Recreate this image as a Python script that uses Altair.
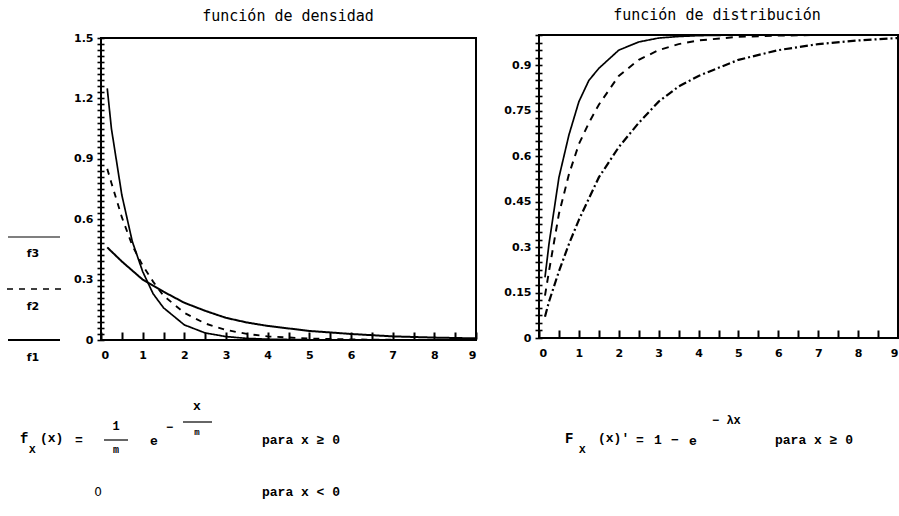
import altair as alt
import pandas as pd

W, H = 899, 516

series = ["f1", "f2", "f3"]
x_marks = [i * 0.5 for i in range(19)]          # ticks every half unit, labels on integers
dens_ymajor, dens_yminor = 0.3, 0.03
dist_ymajor, dist_yminor = 0.15, 0.025

# función de densidad: three exponential densities
dens_x = [0.15, 0.25, 0.5, 0.75, 1.0, 1.25, 1.5, 2.0, 2.5, 3.0, 3.5, 4.0, 5.0, 6.0, 7.0, 8.0, 9.0]
dens_f1 = [1.25, 1.05, 0.72, 0.49, 0.34, 0.23, 0.16, 0.075, 0.035, 0.017, 0.008, 0.004, 0.001, 0.0, 0.0, 0.0, 0.0]
dens_f2 = [0.85, 0.78, 0.61, 0.47, 0.37, 0.29, 0.22, 0.135, 0.082, 0.05, 0.03, 0.018, 0.007, 0.003, 0.001, 0.0, 0.0]
dens_f3 = [0.46, 0.44, 0.39, 0.345, 0.30, 0.27, 0.24, 0.185, 0.145, 0.11, 0.087, 0.07, 0.045, 0.03, 0.018, 0.012, 0.008]

# función de distribución: the matching cumulative curves
dist_x = [0.15, 0.25, 0.5, 0.75, 1.0, 1.25, 1.5, 2.0, 2.5, 3.0, 3.5, 4.0, 5.0, 6.0, 7.0, 8.0, 9.0]
dist_f1 = [0.2, 0.31, 0.53, 0.67, 0.78, 0.85, 0.89, 0.95, 0.977, 0.99, 0.995, 0.998, 1.0, 1.0, 1.0, 1.0, 1.0]
dist_f2 = [0.14, 0.22, 0.41, 0.54, 0.64, 0.71, 0.77, 0.865, 0.918, 0.95, 0.97, 0.982, 0.994, 0.998, 1.0, 1.0, 1.0]
dist_f3 = [0.07, 0.12, 0.22, 0.31, 0.39, 0.46, 0.53, 0.63, 0.71, 0.78, 0.83, 0.865, 0.918, 0.95, 0.97, 0.982, 0.99]


def long_form(xv, ys):
    rows = []
    for name, vals in zip(series, ys):
        for x, y in zip(xv, vals):
            rows.append({"x": x, "y": y, "s": name})
    return pd.DataFrame(rows)


dens_df = long_form(dens_x, [dens_f1, dens_f2, dens_f3])
dist_df = long_form(dist_x, [dist_f1, dist_f2, dist_f3])

LABEL = dict(labelFont="DejaVu Sans", labelFontSize=11, labelFontWeight="bold",
             labelColor="black")


def panel(df, ymax, xr, yr, ymajor, yminor, dashes, widths):
    """Framed plot whose scales map straight onto the given pixel ranges."""
    xsc = alt.Scale(domain=[0, 9], range=xr, nice=False, zero=False)
    ysc = alt.Scale(domain=[0, ymax], range=yr, nice=False, zero=False)
    n = int(round(ymax / yminor))
    yvals = [round(i * yminor, 4) for i in range(n + 1)]
    major_k = int(round(ymajor * 1000))

    box = pd.DataFrame({"x0": [0], "x1": [9], "y0": [0], "y1": [ymax]})
    frame = alt.Chart(box).mark_rect(fill="transparent", stroke="black", strokeWidth=2).encode(
        # x axis drawn with upward (inward) ticks; labels pushed below the frame
        x=alt.X("x0:Q", scale=xsc, axis=alt.Axis(
            orient="top", offset=-(yr[0] - 1), values=x_marks, ticks=True,
            tickSize=7, tickWidth=2, tickColor="#000000", tickOpacity=1,
            domain=False, labelPadding=-28, labelBaseline="bottom", grid=False,
            title=None, zindex=2,
            labelExpr="round(datum.value * 10) % 10 == 0 ? format(datum.value, 'd') : ''",
            **LABEL)),
        x2="x1:Q",
        # y axis ticks straddle the frame line
        y=alt.Y("y0:Q", scale=ysc, axis=alt.Axis(
            orient="left", offset=-(xr[0] + 3), values=yvals, ticks=True,
            tickSize=7, tickWidth=1.6, tickColor="#000000", tickOpacity=1,
            domain=False, labelPadding=4, grid=False, title=None, zindex=2,
            labelExpr=f"round(datum.value * 1000) % {major_k} == 0 ? format(datum.value, '~g') : ''",
            **LABEL)),
        y2="y1:Q",
    )

    curves = alt.Chart(df).mark_line(color="black").encode(
        x=alt.X("x:Q", scale=xsc, axis=None),
        y=alt.Y("y:Q", scale=ysc, axis=None),
        strokeDash=alt.StrokeDash("s:N", scale=alt.Scale(domain=series, range=dashes), legend=None),
        strokeWidth=alt.StrokeWidth("s:N", scale=alt.Scale(domain=series, range=widths), legend=None),
    )
    return [frame, curves]


one = pd.DataFrame({"k": [0]})


def text(s, x, y, size=13, font="Liberation Mono", weight="bold", align="left"):
    return alt.Chart(one).mark_text(
        text=s, font=font, fontSize=size, fontWeight=weight, align=align,
        baseline="middle", color="black").encode(x=alt.value(x), y=alt.value(y))


def hline(x1, x2, y, width=1.2, dash=None):
    kw = {} if dash is None else {"strokeDash": dash}
    return alt.Chart(one).mark_rule(color="black", strokeWidth=width, **kw).encode(
        x=alt.value(x1), x2=alt.value(x2), y=alt.value(y))


layers = []
layers += panel(dens_df, 1.5, [101, 476], [340, 38], dens_ymajor, dens_yminor,
                [[1, 0], [6, 6], [1, 0]], [1.7, 2.0, 1.1])
layers += panel(dist_df, 1.0, [539, 898], [338, 35], dist_ymajor, dist_yminor,
                [[1, 0], [7, 6], [8, 3, 2, 3]], [1.7, 2.2, 1.2])

# titles
layers.append(text("función de densidad", 288, 16, size=15, font="DejaVu Sans Mono", weight="normal", align="center"))
layers.append(text("función de distribución", 717, 15, size=15, font="DejaVu Sans Mono", weight="normal", align="center"))

# legend at the far left
layers.append(hline(8, 60, 237, width=1.2))
layers.append(text("f3", 33, 254, size=11, font="DejaVu Sans", align="center"))
layers.append(hline(7, 63, 289, width=1.6, dash=[6, 6]))
layers.append(text("f2", 33, 307, size=11, font="DejaVu Sans", align="center"))
layers.append(hline(8, 60, 340, width=1.8))
layers.append(text("f1", 33, 358, size=11, font="DejaVu Sans", align="center"))

# density formula
layers.append(text("f", 20, 439, size=14))
layers.append(text("X", 29, 450, size=11))
layers.append(text("(x)", 40, 438))
layers.append(text("=", 75, 440))
layers.append(text("1", 116, 426, size=12, align="center"))
layers.append(hline(104, 128, 440))
layers.append(text("m", 116, 450, size=10, align="center"))
layers.append(text("e", 150, 441))
layers.append(text("−", 166, 427, size=12))
layers.append(text("x", 197, 406, size=13, align="center"))
layers.append(hline(183, 212, 422))
layers.append(text("m", 197, 432, size=9, align="center"))
layers.append(text("para x ≥ 0", 262, 440, size=13))
layers.append(text("0", 98, 492, size=12, font="DejaVu Sans", weight="normal", align="center"))
layers.append(text("para x < 0", 262, 492, size=13))

# distribution formula
layers.append(text("F", 565, 439, size=14))
layers.append(text("X", 579, 450, size=11))
layers.append(text("(x)'", 598, 438))
layers.append(text("=", 636, 440))
layers.append(text("1", 654, 440))
layers.append(text("−", 671, 440))
layers.append(text("e", 689, 441))
layers.append(text("− λx", 712, 420, size=12))
layers.append(text("para x ≥ 0", 775, 440, size=13))

chart = alt.layer(*layers).resolve_scale(
    x="independent", y="independent", strokeDash="independent", strokeWidth="independent"
).resolve_axis(
    x="independent", y="independent"
).properties(
    width=W, height=H, autosize=alt.AutoSizeParams(type="none"), padding=0
).configure_view(strokeWidth=0)

chart.save("out.html", embed_options={"renderer": "svg", "actions": False})
